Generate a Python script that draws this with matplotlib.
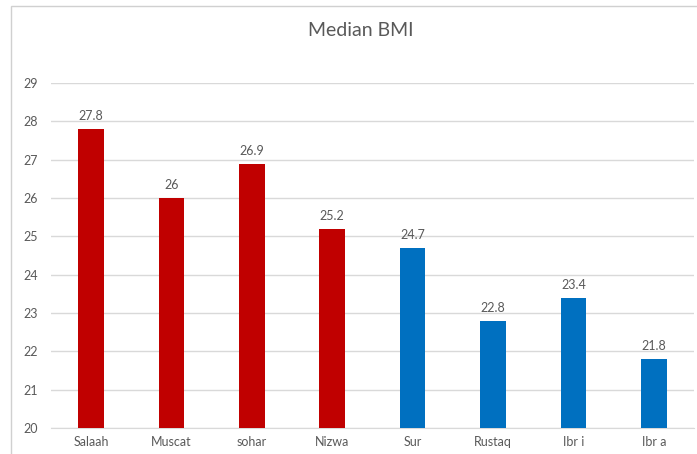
import matplotlib
matplotlib.use("Agg")
import matplotlib.pyplot as plt
from matplotlib.patches import Rectangle

# Median BMI by city
cities = ["Salaah", "Muscat", "sohar", "Nizwa", "Sur", "Rustaq", "Ibr i", "Ibr a"]
median_bmi = [27.8, 26, 26.9, 25.2, 24.7, 22.8, 23.4, 21.8]
bar_colors = ["#C00000"] * 4 + ["#0070C0"] * 4
y_ticks = [20, 21, 22, 23, 24, 25, 26, 27, 28, 29]

plt.rcParams["font.family"] = ["Lato", "DejaVu Sans"]
text_gray = "#595959"
grid_gray = "#D9D9D9"

fig = plt.figure(figsize=(6.97, 4.54), dpi=100)
ax = fig.add_axes([0.0729, 0.0573, 0.9228, 0.7597])

x = range(len(cities))
bars = ax.bar(x, median_bmi, width=0.32, color=bar_colors, zorder=3)

for b, v in zip(bars, median_bmi):
    ax.annotate(f"{v:g}", (b.get_x() + b.get_width() / 2, v),
                xytext=(0, 5), textcoords="offset points",
                ha="center", va="bottom", fontsize=9, color=text_gray)

ax.set_xlim(-0.5, len(cities) - 0.5)
ax.set_ylim(20, 29)
ax.set_yticks(y_ticks)
ax.set_xticks(list(x))
ax.set_xticklabels(cities)
ax.yaxis.grid(True, color=grid_gray, linewidth=1, zorder=0)
ax.tick_params(axis="both", length=0, labelsize=9, colors=text_gray)
ax.tick_params(axis="y", pad=9)
ax.tick_params(axis="x", pad=6)
for side in ["top", "right", "left"]:
    ax.spines[side].set_visible(False)
ax.spines["bottom"].set_color(grid_gray)

fig.text(0.517, 0.932, "Median BMI", ha="center", va="center",
         fontsize=14, color=text_gray)

# light frame around the chart area
fig.patches.append(Rectangle((11 / 697, -0.05), 1.2, 1 - 6 / 454 + 0.05,
                             transform=fig.transFigure, fill=False,
                             edgecolor="#D0D0D0", linewidth=1))

fig.savefig("out.png", dpi=100)
